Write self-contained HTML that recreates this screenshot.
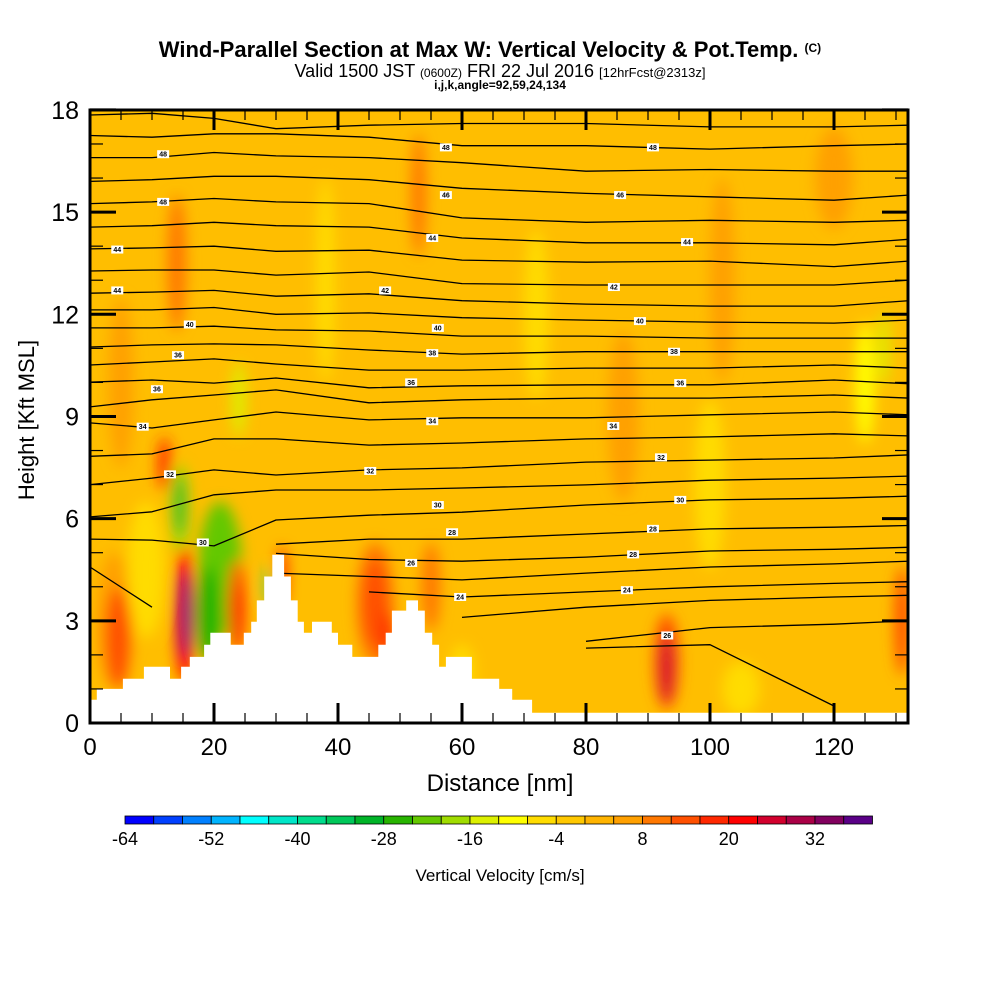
<!DOCTYPE html>
<html><head><meta charset="utf-8"><style>
html,body{margin:0;padding:0;background:#fff}
svg{display:block;font-family:"Liberation Sans",sans-serif}
</style></head><body>
<svg id="chart" width="1000" height="1000" viewBox="0 0 1000 1000" xmlns="http://www.w3.org/2000/svg">
<defs>
<clipPath id="plotclip"><rect x="90" y="110" width="818" height="613"/></clipPath>
<filter id="blur" x="-50%" y="-50%" width="200%" height="200%"><feGaussianBlur stdDeviation="7"/></filter>
</defs>
<text x="490" y="57" text-anchor="middle" font-size="22" font-weight="bold">Wind-Parallel Section at Max W: Vertical Velocity &amp; Pot.Temp. <tspan font-size="12" dy="-5">(C)</tspan></text>
<text x="500" y="77" text-anchor="middle" font-size="18">Valid 1500 JST <tspan font-size="12">(0600Z)</tspan> FRI 22 Jul 2016 <tspan font-size="13">[12hrFcst@2313z]</tspan></text>
<text x="500" y="89" text-anchor="middle" font-size="12" font-weight="bold">i,j,k,angle=92,59,24,134</text>
<g id="plot" clip-path="url(#plotclip)">
<rect x="90" y="110" width="818" height="613" fill="#ffbe00"/>
<g id="blobs" filter="url(#blur)"></g>
<g id="contours"></g>
<g id="labels"></g>
<path id="terrain" fill="#fff"/>
</g>
<rect x="90" y="110" width="818" height="613" fill="none" stroke="#000" stroke-width="3"/>
<g id="axes"></g>
<text x="500" y="791" text-anchor="middle" font-size="24">Distance [nm]</text>
<text transform="translate(34,420) rotate(-90)" text-anchor="middle" font-size="22">Height [Kft MSL]</text>
<g id="colorbar"></g>
<text x="500" y="881" text-anchor="middle" font-size="17">Vertical Velocity [cm/s]</text>
</svg>
<script>
const NS="http://www.w3.org/2000/svg";
// colorbar levels and colours
const cbLevels=[-64,-60,-56,-52,-48,-44,-40,-36,-32,-28,-24,-20,-16,-12,-8,-4,0,4,8,12,16,20,24,28,32,36];
const cbColors=["#0000ff","#0040ff","#0080ff","#00b4ff","#00ffff","#00e6c8","#00dc8c","#00c85a","#00b428","#28b400","#64c800","#a0dc00","#dcf000","#ffff00","#ffdc00","#ffc800","#ffb400","#ffa000","#ff7800","#ff5000","#ff2800","#ff0000","#d2002d","#aa0046","#82005f","#5a0087"];
const cbTicks=[-64,-52,-40,-28,-16,-4,8,20,32];
// terrain (distance nm edges, height kft)
const terrX=[0,1.1,5.3,8.7,12.9,14.7,16.1,18.4,19.4,22.7,24.8,26.0,26.9,28.1,29.4,31.3,32.4,33.5,34.5,35.8,39.0,40.0,42.3,46.5,47.7,48.7,51.0,52.9,54.0,55.2,56.3,57.4,61.6,66.0,68.1,71.3,133];
const terrH=[0.68,1.0,1.3,1.65,1.3,1.65,1.94,2.3,2.65,2.3,2.65,2.97,3.6,4.3,4.94,4.3,3.6,2.97,2.65,2.97,2.65,2.3,1.94,2.3,2.65,3.3,3.6,3.3,2.65,2.3,1.65,1.94,1.3,1.0,0.68,0.3];
// isentrope heights (kft) at sample distances
const lineX=[0,10,20,30,45,60,80,100,120,132];
const lineH=[
[17.85,17.9,17.75,17.45,17.55,17.6,17.6,17.5,17.5,17.55],
[17.25,17.2,17.3,17.3,17.2,16.95,16.95,16.85,16.95,17.0],
[16.6,16.6,16.75,16.65,16.6,16.45,16.2,16.25,16.2,16.2],
[15.9,15.95,16.05,16.05,15.95,15.7,15.55,15.45,15.35,15.5],
[15.25,15.3,15.4,15.3,15.25,14.83,14.7,14.76,14.7,14.76],
[14.56,14.6,14.7,14.6,14.56,14.24,14.1,14.1,14.04,14.2],
[13.92,13.95,14.0,13.85,13.88,13.59,13.53,13.56,13.4,13.56],
[13.27,13.3,13.3,13.15,13.24,12.9,12.86,12.86,12.86,13.0],
[12.62,12.65,12.7,12.53,12.6,12.4,12.3,12.24,12.24,12.4],
[12.13,12.13,12.2,12.0,12.04,11.9,11.83,11.77,11.74,11.83],
[11.6,11.6,11.65,11.54,11.51,11.36,11.36,11.3,11.3,11.3],
[11.04,11.1,11.13,11.1,10.95,10.83,10.9,10.9,10.9,10.9],
[10.51,10.6,10.69,10.54,10.36,10.36,10.42,10.42,10.51,10.42],
[10.01,10.07,9.98,10.13,9.84,9.9,9.93,9.93,10.07,9.96],
[9.28,9.49,9.63,9.78,9.4,9.49,9.54,9.54,9.63,9.54],
[8.81,8.66,8.9,9.13,8.9,8.96,8.96,9.05,9.13,9.05],
[7.83,7.9,8.34,8.34,8.16,8.22,8.34,8.4,8.49,8.43],
[7.0,7.19,7.43,7.28,7.43,7.49,7.66,7.72,7.78,7.87],
[6.05,6.2,6.7,6.84,6.84,6.9,6.99,7.13,7.19,7.25],
[5.4,5.37,5.2,5.96,6.1,6.19,6.4,6.55,6.6,6.66],
[4.58,3.4,null,5.25,5.4,5.4,5.55,5.7,5.75,5.8],
[null,null,null,4.98,4.8,4.75,4.87,5.05,5.1,5.16],
[null,null,null,4.4,4.3,4.2,4.4,4.58,4.67,4.75],
[null,null,null,null,3.85,3.7,3.85,4.0,4.1,4.15],
[null,null,null,null,null,3.1,3.4,3.6,3.7,3.75],
[null,null,null,null,null,null,2.4,2.8,2.9,3.0],
[null,null,null,null,null,null,2.2,2.3,0.5,null]
];
// velocity anomaly blobs: distance, height, value, radii
const blobX=[38,72,100,60,105,5,102,120,86,4,4.5,9,21,19,14.5,14.5,15.3,15.3,23.7,23.7,93,93,46,46,55,48,12,14,53,24,125,128,131,28.5,31];
const blobY=[13,12,7,1.5,1,10,13,16,9,3,2.5,4.5,4.5,3.2,6.3,6.4,3.2,3.2,3.4,3.2,1.8,1.6,3.5,3.5,4,2.5,7.6,13.5,15.5,9.5,10,11,3,4,4.3];
const blobV=[-8,-8,-8,-8,-8,4,4,4,6,6,14,-8,-22,-26,-18,-30,20,36,12,22,12,26,8,14,10,16,16,8,8,-14,-10,-13,12,-40,20];
const blobRX=[1.5,2,2.5,2,3,2,2,3,2.5,3,2,3,3.5,2,1.6,0.8,1.6,0.8,1.4,0.7,2,1.1,3,2,1.5,1,1,1.5,1.2,1.1,1.5,0.9,1.2,0.4,0.6];
const blobRY=[3,2.5,2.5,0.8,0.8,2.5,3,1.5,2.5,2,1.5,2,2,1.4,1.3,0.9,2,1.3,1.4,0.9,1.4,1.0,1.8,1.3,1.3,0.8,0.8,2,1.8,1.1,1.8,1.1,1.6,0.6,0.9];
// contour label values and positions (distance, height)
const labText=["48","48","44","44","40","36","36","34","32","30","48","46","44","42","40","38","36","34","32","30","28","26","24","48","46","44","42","40","38","36","34","32","30","28","28","24","26"];
const labX=[11.8,11.8,4.4,4.4,16.1,14.2,10.8,8.5,12.9,18.2,57.4,57.4,55.2,47.6,56.1,55.2,51.8,55.2,45.2,56.1,58.4,51.8,59.7,90.8,85.5,96.3,84.5,88.7,94.2,95.2,84.4,92.1,95.2,90.8,87.6,86.6,93.1];
const labY=[16.7,15.3,13.9,12.7,11.7,10.8,9.8,8.7,7.3,5.3,16.9,15.5,14.24,12.7,11.6,10.86,10.0,8.86,7.4,6.4,5.6,4.7,3.7,16.9,15.5,14.12,12.8,11.8,10.9,9.98,8.72,7.8,6.55,5.7,4.95,3.9,2.57];
const xS=d=>90+d*6.2, yS=h=>723-h*34.06;
function colorOf(v){let c=cbColors[0];for(let i=0;i<cbLevels.length;i++){if(v>=cbLevels[i])c=cbColors[i];}return c;}
const blobs=document.getElementById('blobs');
for(let i=0;i<blobX.length;i++){
  const e=document.createElementNS(NS,'ellipse');
  e.setAttribute('cx',xS(blobX[i]));e.setAttribute('cy',yS(blobY[i]));
  e.setAttribute('rx',blobRX[i]*6.2);e.setAttribute('ry',blobRY[i]*34.06);
  e.setAttribute('fill',colorOf(blobV[i]));
  
  
  blobs.appendChild(e);
}
const cg=document.getElementById('contours');
lineH.forEach(row=>{
  let d="",pen=false;
  for(let j=0;j<lineX.length;j++){
    if(row[j]===null){pen=false;continue;}
    d+=(pen?"L":"M")+xS(lineX[j]).toFixed(1)+","+yS(row[j]).toFixed(1);pen=true;
  }
  const p=document.createElementNS(NS,'path');
  p.setAttribute('d',d);p.setAttribute('fill','none');p.setAttribute('stroke','#000');p.setAttribute('stroke-width','1.3');p.setAttribute('stroke-linejoin','round');
  
  
  cg.appendChild(p);
});
const lg=document.getElementById('labels');
labText.forEach((t,i)=>{
  const x=xS(labX[i]),y=yS(labY[i]);
  const r=document.createElementNS(NS,'rect');
  r.setAttribute('x',x-6);r.setAttribute('y',y-4);r.setAttribute('width',12);r.setAttribute('height',8);r.setAttribute('fill','#fff');
  
  
  lg.appendChild(r);
  const tx=document.createElementNS(NS,'text');
  tx.setAttribute('x',x);tx.setAttribute('y',y+2.5);tx.setAttribute('font-size','7');tx.setAttribute('font-weight','bold');tx.setAttribute('text-anchor','middle');
  tx.textContent=t;
  
  
  lg.appendChild(tx);
});
let td="M"+xS(0)+",723";
for(let i=0;i<terrH.length;i++){td+="L"+xS(terrX[i]).toFixed(1)+","+yS(terrH[i]).toFixed(1)+"L"+xS(terrX[i+1]).toFixed(1)+","+yS(terrH[i]).toFixed(1);}
td+="L"+xS(133)+",723Z";
document.getElementById('terrain').setAttribute('d',td);
const ax=document.getElementById('axes');
function line(x1,y1,x2,y2,w,name){const l=document.createElementNS(NS,'line');l.setAttribute('x1',x1);l.setAttribute('y1',y1);l.setAttribute('x2',x2);l.setAttribute('y2',y2);l.setAttribute('stroke','#000');l.setAttribute('stroke-width',w);
  
  
  ax.appendChild(l);}
function txt(x,y,s,t,anchor,name,parent){const e=document.createElementNS(NS,'text');e.setAttribute('x',x);e.setAttribute('y',y);e.setAttribute('font-size',s);e.setAttribute('text-anchor',anchor);e.textContent=t;
  
  
  (parent||ax).appendChild(e);}
const yTicks=[0,3,6,9,12,15,18];
const xTicks=[0,20,40,60,80,100,120];
for(let h=0;h<=18;h++){const y=yS(h),maj=h%3===0;line(90,y,90+(maj?26:13),y,maj?3:1.2,'y-tick');line(908,y,908-(maj?26:13),y,maj?3:1.2,'y-tick-right');}
yTicks.forEach(h=>txt(79,yS(h)+9,25,String(h),'end','y-tick-label'));
for(let d=0;d<=130;d+=5){const x=xS(d),maj=d%20===0;line(x,723,x,723-(maj?20:10),maj?3:1.2,'x-tick');line(x,110,x,110+(maj?20:10),maj?3:1.2,'x-tick-top');}
xTicks.forEach(d=>txt(xS(d),755,24,String(d),'middle','x-tick-label'));
const cb=document.getElementById('colorbar');
const cbW=28.75;
cbColors.forEach((c,i)=>{const r=document.createElementNS(NS,'rect');r.setAttribute('x',125+i*cbW);r.setAttribute('y',816);r.setAttribute('width',cbW);r.setAttribute('height',8);r.setAttribute('fill',c);r.setAttribute('stroke','#000');r.setAttribute('stroke-width','0.8');
  
  
  cb.appendChild(r);});
cbTicks.forEach(v=>txt(125+(v-cbLevels[0])/4*cbW,845,18,String(v),'middle','colorbar-tick-label',cb));
</script>
</body></html>
